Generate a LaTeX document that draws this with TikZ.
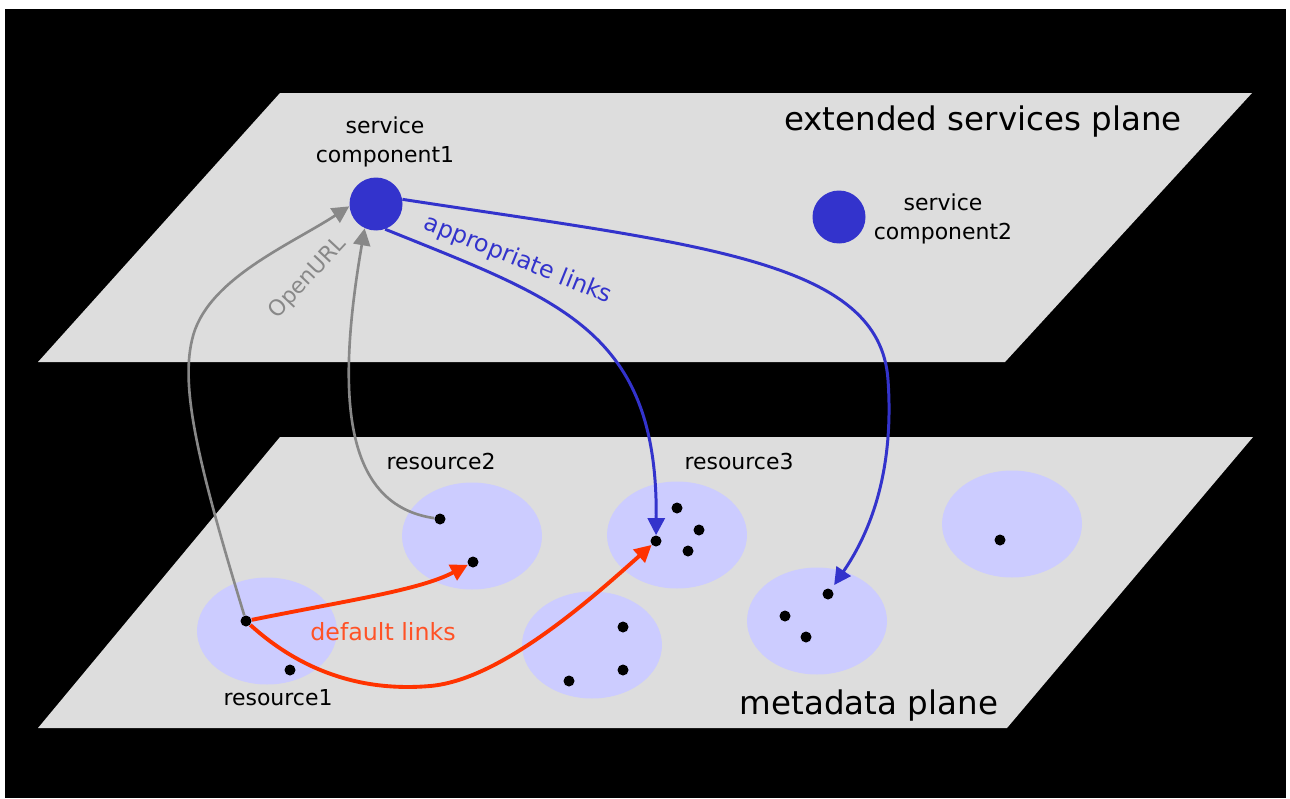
\documentclass[tikz,border=0pt]{standalone}
\usepackage{fontspec}
\setmainfont{DejaVu Sans}
\usetikzlibrary{arrows.meta,shapes.geometric}

\definecolor{planegray}{HTML}{DDDDDD}
\definecolor{poolblue}{HTML}{CCCCFF}
\definecolor{servblue}{HTML}{3333CC}
\definecolor{urlgray}{HTML}{888888}
\definecolor{linkred}{HTML}{FF3300}

\tikzset{
  rdot/.style={circle,fill=black,inner sep=0pt,minimum size=0.22cm},
  pool/.style={ellipse,fill=poolblue,inner sep=0pt,minimum width=2.8cm,minimum height=2.14cm},
  service/.style={circle,fill=servblue,inner sep=0pt,minimum size=1.06cm},
  lbl/.style={font=\fontsize{12.5}{17}\selectfont,align=center,inner sep=0pt},
  planetext/.style={font=\fontsize{18.5}{22}\selectfont,inner sep=0pt},
  headtip/.style={-{Triangle[length=0.34cm,width=0.34cm]}},
  urllink/.style={headtip,draw=urlgray,line width=1.5pt},
  applink/.style={headtip,draw=servblue,line width=1.7pt},
  deflink/.style={headtip,draw=linkred,line width=2.2pt},
}

\begin{document}
\begin{tikzpicture}[x=0.02cm,y=-0.02cm]
    \useasboundingbox (0,0) rectangle (1290,798);
    \fill[white] (0,0) rectangle (1290,798);
    \fill[black] (5,9) rectangle (1286,798);
    % the two planes
    \fill[planegray] (280,93) -- (1252,93) -- (1005,362) -- (38,362) -- cycle;
    \fill[planegray] (280,437) -- (1253,437) -- (1007,728) -- (38,728) -- cycle;
    \node[planetext] (toplbl) at (983,122) {extended services plane};
    \node[planetext] (botlbl) at (869,706) {metadata plane};

    % service components
    \node[service] (sc1) at (376,204) {};
    \node[service] (sc2) at (839,217) {};
    \node[lbl] (sc1lbl) at (385,142) {service\\component1};
    \node[lbl] (sc2lbl) at (943,219) {service\\component2};

    % resource pools
    \node[pool] (p1) at (267,631) {};
    \node[pool] (p2) at (472,536) {};
    \node[pool] (p3) at (677,535) {};
    \node[pool] (p4) at (592,645) {};
    \node[pool] (p5) at (817,621) {};
    \node[pool] (p6) at (1012,524) {};
    \node[lbl] (res1) at (278,698) {resource1};
    \node[lbl] (res2) at (441,461) {resource2};
    \node[lbl] (res3) at (739,461) {resource3};

    % records
    \node[rdot] (r1a) at (246,621) {};
    \node[rdot] (r1b) at (290,670) {};
    \node[rdot] (r2a) at (440,519) {};
    \node[rdot] (r2b) at (473,562) {};
    \node[rdot] (r3a) at (656,541) {};
    \node[rdot] (r3b) at (677,508) {};
    \node[rdot] (r3c) at (699,530) {};
    \node[rdot] (r3d) at (688,551) {};
    \node[rdot] (r4a) at (623,627) {};
    \node[rdot] (r4b) at (623,670) {};
    \node[rdot] (r4c) at (569,681) {};
    \node[rdot] (r5a) at (828,594) {};
    \node[rdot] (r5b) at (785,616) {};
    \node[rdot] (r5c) at (806,637) {};
    \node[rdot] (r6a) at (1000,540) {};

    % OpenURL
    \draw[urllink] (r1a) .. controls (200,470) and (180,390) .. (192,340)
        .. controls (205,280) and (290,245) .. (sc1.185);
    \draw[urllink] (r2a) .. controls (345,505) and (335,400) .. (sc1.245);
    \node[lbl,text=urlgray,rotate=47] (urllbl) at (308,278) {OpenURL};

    % appropriate links
    \draw[applink] (sc1.290) .. controls (560,300) and (658,330) .. (r3a);
    \draw[applink,shorten >=0.1cm] (sc1.10) .. controls (700,245) and (880,260) .. (888,380)
        .. controls (895,480) and (865,540) .. (r5a);
    \node[lbl,font=\fontsize{13.5}{16}\selectfont,text=servblue,rotate=-22] (applbl) at (518,260) {appropriate links};

    % default links
    \draw[deflink] (r1a) .. controls (350,600) and (420,590) .. (r2b);
    \draw[deflink] (r1a) .. controls (300,670) and (360,692) .. (430,686)
        .. controls (500,680) and (590,600) .. (r3a);
    \node[lbl,font=\fontsize{13.5}{16}\selectfont,text=linkred!85!white] (deflbl) at (383,632) {default links};
\end{tikzpicture}
\end{document}
